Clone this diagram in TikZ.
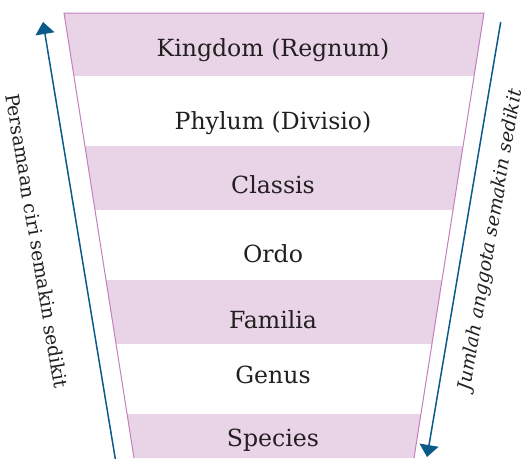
\documentclass[tikz,border=0pt]{standalone}
\usepackage{fontspec}
\setmainfont{DejaVu Serif}
\usetikzlibrary{positioning,calc,arrows.meta}
\definecolor{bandpink}{HTML}{E8D3E7}
\definecolor{edgepink}{HTML}{C47FBD}
\definecolor{arrblue}{HTML}{0B5A8A}
\definecolor{txtgray}{HTML}{231F20}
\tikzset{rank/.style={font=\fontsize{23.6}{26}\selectfont,text=txtgray,anchor=base,inner sep=0pt}  }
\tikzset{side/.style={font=\fontsize{18.8}{20}\selectfont,text=txtgray,inner sep=0pt}  }
\tikzset{>={Triangle[length=12pt,width=19pt]}}

\begin{document}
\begin{tikzpicture}[x=1pt,y=-1pt]
	\useasboundingbox (0,0) rectangle (521,458);
		\coordinate (tl) at (64,13);
		\coordinate (tr) at (484,13);
		\coordinate (bl) at (134,458);
		\coordinate (br) at (414,458);

		\begin{scope}
			\clip (tl) -- (tr) -- (br) -- (bl) -- cycle;
			\foreach \y/\h in {13/76,146/210,280/344,414/470}
				\fill[bandpink] (0,\y) rectangle (521,\h);
		\end{scope}
		\draw[edgepink,line width=1pt] (bl) -- (tl) -- (tr) -- (br);

		\node[rank] (kingdom) at (273,56.3) {Kingdom (Regnum)};
		\node[rank] (phylum) at (273,129) {Phylum (Divisio)};
		\node[rank] (classis) at (273,193.3) {Classis};
		\node[rank] (ordo) at (273,262.3) {Ordo};
		\node[rank] (familia) at (273,328.3) {Familia};
		\node[rank] (genus) at (273,383.3) {Genus};
		\node[rank] (species) at (273,446.7) {Species};

		% arrows at the sides
		\coordinate (ciri0) at (115.5,460);
		\coordinate (ciri1) at (43,22);
		\coordinate (jml0) at (500.7,22);
		\coordinate (jml1) at (427,457);
		\draw[->,arrblue,line width=1.5pt] (ciri0) -- (ciri1);
		\draw[->,arrblue,line width=1.5pt] (jml0) -- (jml1);
		\node[side,rotate=-80.6] (ciri) at (37,241) {Persamaan ciri semakin sedikit};
		\node[side,rotate=80.3,font=\fontsize{18.8}{20}\selectfont\itshape] (jml) at (491,240) {Jumlah anggota semakin sedikit};
\end{tikzpicture}
\end{document}
